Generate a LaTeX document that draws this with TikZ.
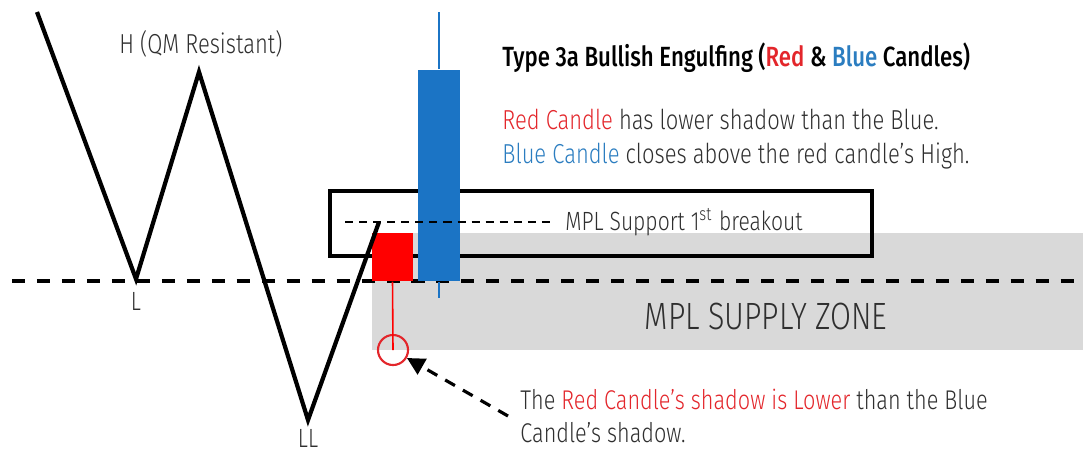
\documentclass[tikz,border=0pt]{standalone}
\usepackage{fontspec}
\setmainfont{Fira Sans}[FakeStretch=0.8]
\IfFontExistsTF{Fira Sans Light}
  {\newfontfamily\thinfont{Fira Sans Light}[FakeStretch=0.8]}
  {\newfontfamily\thinfont{Fira Sans}[FakeStretch=0.8]}
\IfFontExistsTF{Fira Sans Medium}
  {\newfontfamily\headfont{Fira Sans Medium}[FakeStretch=0.8]}
  {\newfontfamily\headfont{Fira Sans}[FakeStretch=0.8]}
\usepackage{xcolor}
\usetikzlibrary{positioning, arrows.meta}

\definecolor{candleRed}{HTML}{FF0000}
\definecolor{candleBlue}{HTML}{1B74C5}
\definecolor{txtRed}{HTML}{E3262B}
\definecolor{txtBlue}{HTML}{2B7DC0}
\definecolor{zoneGray}{HTML}{D9D9D9}
\definecolor{inkGray}{HTML}{2F2F2F}

\begin{document}
\begin{tikzpicture}[x=0.01cm, y=-0.01cm, node distance=2pt,
        font=\thinfont\fontsize{7.5}{9.6}\selectfont, text=inkGray,
        trend/.style={line width=1.2pt, line join=miter},
        level/.style={line width=0.9pt, dash pattern=on 3.7pt off 3.4pt},
        support/.style={line width=0.6pt, dash pattern=on 2.3pt off 1.7pt},
        body/.style={inner sep=0pt, minimum width=0.42cm},
        wick/.style={line width=0.45pt},
        breakbox/.style={draw, line width=1.2pt, inner sep=0pt, minimum width=5.42cm, minimum height=0.65cm},
        shadowring/.style={circle, draw=txtRed, line width=0.6pt, minimum size=0.3cm, inner sep=0pt},
        pointer/.style={line width=0.9pt, dash pattern=on 3.2pt off 2.6pt, -{Triangle[length=5pt, width=5pt]}},
        swing/.style={inner sep=1pt}]

        \useasboundingbox (0,0) rectangle (1083,451);

        % supply zone
        \fill[zoneGray] (372,233) rectangle (1083,350);
        \node[font=\thinfont\fontsize{10.8}{12}\selectfont] (zone) at (766,316) {MPL SUPPLY ZONE};

        % QM level
        \coordinate (lvlA) at (12,281);
        \coordinate (lvlB) at (1083,281);
        \draw[level] (lvlA) -- (lvlB);

        % breakout box
        \node[breakbox] (box) at (601,223.5) {};

        % candles
        \node[body, fill=candleRed, minimum width=0.41cm, minimum height=0.48cm] (rc) at (392.5,257) {};
        \node[body, fill=candleBlue, minimum height=2.11cm] (bc) at (439,175.5) {};
        \node[shadowring] (ring) at (393,350) {};
        \coordinate (btop) at (439,12);
        \coordinate (bbot) at (439,298);
        \draw[wick, candleBlue] (bc.north) -- (btop);
        \draw[wick, candleBlue] (bc.south) -- (bbot);
        \draw[wick, candleRed] (rc.south) -- (ring.center);

        % swings
        \coordinate (start) at (37,12);
        \coordinate (L) at (136,279);
        \coordinate (H) at (199,72);
        \coordinate (LL) at (308,420);
        \coordinate (brk) at (379,222);
        \draw[trend] (start) -- (L) -- (H) -- (LL) -- (brk);

        \node[swing] (lblL) [below=2.5pt of L] {L};
        \node[swing] (lblLL) [below=1.5pt of LL] {LL};
        \node[swing] (lblH) [above=3pt of H, xshift=0.02cm, font=\thinfont\fontsize{7.8}{9.6}\selectfont] {H (QM Resistant)};

        % support line
        \coordinate (sup) at (345,222);
        \node[anchor=west] (suptext) at (553,222) {MPL Support 1\textsuperscript{st} breakout};
        \draw[support] (sup) -- (suptext.west);

        % texts
        \node[anchor=west, font=\headfont\fontsize{7.9}{9.6}\selectfont, text=black] (title) at (490,58)
            {Type 3a Bullish Engulfing (\textcolor{txtRed}{Red} \& \textcolor{txtBlue}{Blue} Candles)};
        \node[anchor=west, align=left, font=\thinfont\fontsize{7.8}{9.7}\selectfont] (desc) at (490,139)
            {\textcolor{txtRed}{Red Candle} has lower shadow than the Blue.\\
             \textcolor{txtBlue}{Blue Candle} closes above the red candle’s High.};
        \node[anchor=west, align=left, font=\thinfont\fontsize{7.7}{9.2}\selectfont] (lownote) at (508,416)
            {The \textcolor{txtRed}{Red Candle’s shadow is Lower} than the Blue\\
             Candle’s shadow.};

        \draw[pointer] (lownote.west) -- (ring);
\end{tikzpicture}
\end{document}
